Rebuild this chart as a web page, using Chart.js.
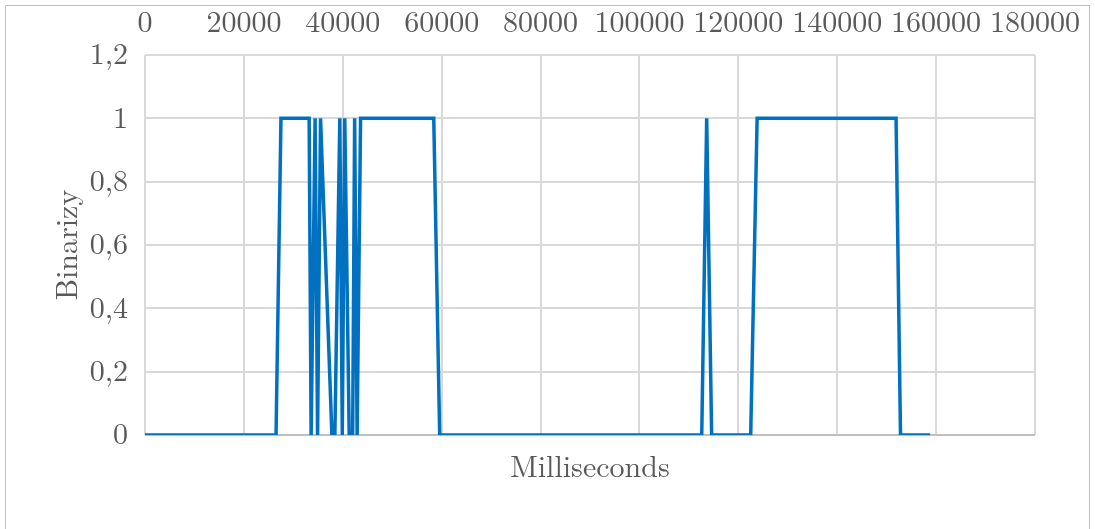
<!DOCTYPE html>
<html>
<head>
<meta charset="utf-8">
<script src="https://cdn.jsdelivr.net/npm/chart.js@4"></script>
<style>
  body { margin: 0; background: #fff; }
  #wrap { position: relative; width: 1095px; height: 529px; }
  #frame {
    position: absolute; left: 5px; top: 5px; width: 1085px; height: 540px;
    border: 1px solid #bfbfbf; box-sizing: border-box;
  }
</style>
</head>
<body>
<div id="wrap">
  <canvas id="chart" width="1095" height="529"></canvas>
  <div id="frame"></div>
</div>
<script>
/* Data
================================================================ */

// milliseconds at each transition of the signal
const times = [0, 26500, 27500, 33200, 33600, 34400, 34900, 35500, 37800, 38400,
  39400, 39900, 40400, 41300, 42000, 42400, 42900, 43600, 58400, 59600,
  112600, 113600, 114600, 122500, 123800, 151900, 152800, 158800]
const binary = [0, 0, 1, 1, 0, 1, 0, 1, 0, 0,
  1, 0, 1, 0, 0, 1, 0, 1, 1, 0,
  0, 1, 0, 0, 1, 1, 0, 0]

const xTicks = [0, 20000, 40000, 60000, 80000, 100000, 120000, 140000, 160000, 180000]
const yTicks = [0, 0.2, 0.4, 0.6, 0.8, 1, 1.2]

/* Chart
================================================================ */

const textColor = '#595959'
const serif = '"Latin Modern Roman", "Liberation Serif", serif'

const points = times.map((t, i) => ({ x: t, y: binary[i] }))

const chart = new Chart(document.getElementById('chart'), {
  type: 'scatter',
  data: {
    datasets: [
      {
        data: points,
        showLine: true,
        borderColor: '#0070C0',
        borderWidth: 3.5,
        pointRadius: 0,
        tension: 0,
        borderJoinStyle: 'miter'
      }
    ]
  },
  options: {
    responsive: false,
    animation: false,
    layout: {
      padding: { left: 4, top: 4, right: 60, bottom: 0 }
    },
    scales: {
      x: {
        type: 'linear',
        position: 'top',
        min: 0,
        max: 180000,
        afterBuildTicks: (scale) => {
          scale.ticks = xTicks.map(v => ({ value: v }))
        },
        afterFit: (scale) => {
          scale.height = 51
        },
        ticks: {
          autoSkip: false,
          maxRotation: 0,
          padding: 14,
          color: textColor,
          font: { family: serif, size: 30 },
          callback: (v) => String(v)
        },
        grid: {
          color: '#d9d9d9',
          lineWidth: 2,
          drawTicks: false
        },
        border: { display: false }
      },
      // bottom axis only carries the "Milliseconds" title
      xTitle: {
        type: 'linear',
        position: 'bottom',
        min: 0,
        max: 180000,
        afterFit: (scale) => {
          scale.height = 94
        },
        ticks: { display: false },
        grid: { display: false },
        border: { display: false },
        title: {
          display: true,
          text: 'Milliseconds',
          color: textColor,
          font: { family: serif, size: 30 },
          padding: { top: 15, bottom: 43 }
        }
      },
      y: {
        min: 0,
        max: 1.2,
        afterBuildTicks: (scale) => {
          scale.ticks = yTicks.map(v => ({ value: v }))
        },
        afterFit: (scale) => {
          scale.width = 141
        },
        ticks: {
          padding: 17,
          color: textColor,
          font: { family: serif, size: 30 },
          callback: (v) => String(Math.round(v * 10) / 10).replace('.', ',')
        },
        grid: {
          color: (ctx) => (ctx.tick && ctx.tick.value === 0 ? '#bfbfbf' : '#d9d9d9'),
          lineWidth: 2,
          drawTicks: false
        },
        border: { display: false },
        title: {
          display: true,
          text: 'Binarizy',
          color: textColor,
          font: { family: serif, size: 30 },
          padding: { top: 46, bottom: 0 }
        }
      }
    },
    plugins: {
      legend: { display: false },
      tooltip: { enabled: false }
    }
  }
})
</script>
</body>
</html>
